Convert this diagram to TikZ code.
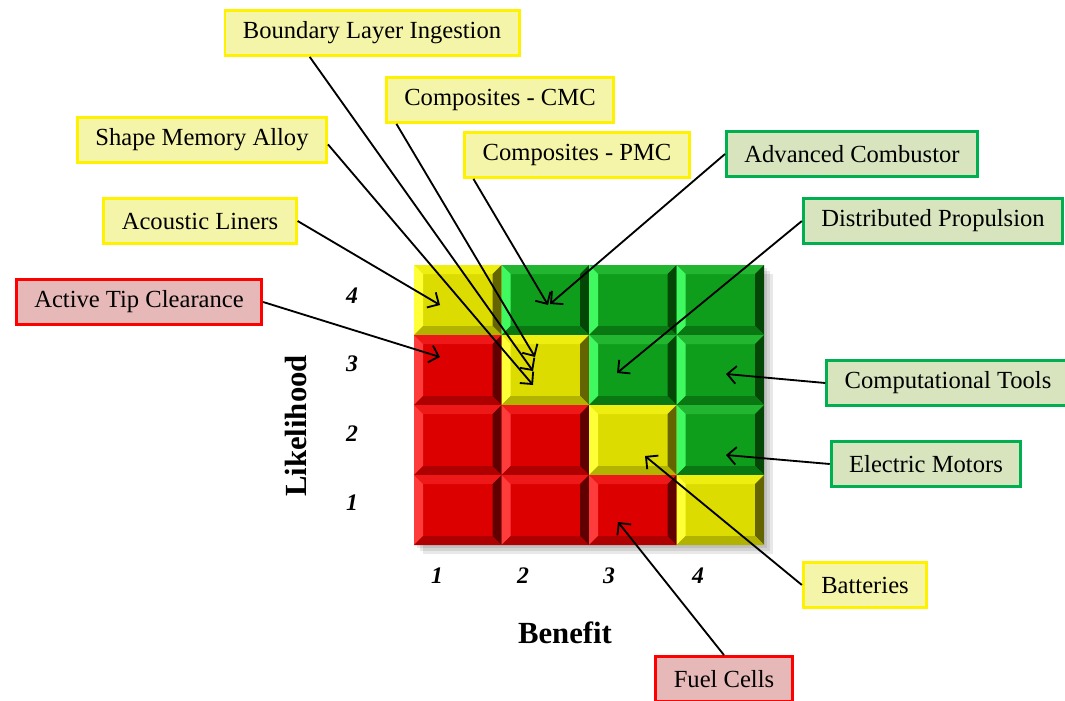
\documentclass[tikz,border=0pt]{standalone}
\usepackage{fontspec}
\setmainfont{Liberation Serif}
\usepackage{xcolor}
\usepackage{tikz}
\usetikzlibrary{arrows.meta}

\definecolor{baser}{HTML}{DC0000}
\definecolor{topr}{HTML}{EE1818}
\definecolor{leftr}{HTML}{FF3C3C}
\definecolor{rightr}{HTML}{600000}
\definecolor{botr}{HTML}{AE0000}
\definecolor{basey}{HTML}{DCDC00}
\definecolor{topy}{HTML}{EEEE10}
\definecolor{lefty}{HTML}{FFFF38}
\definecolor{righty}{HTML}{646400}
\definecolor{boty}{HTML}{B2B200}
\definecolor{baseg}{HTML}{0F9E1C}
\definecolor{topg}{HTML}{22B630}
\definecolor{leftg}{HTML}{40F860}
\definecolor{rightg}{HTML}{034606}
\definecolor{botg}{HTML}{0A7812}
\definecolor{yfill}{HTML}{F5F5AA}
\definecolor{gfill}{HTML}{D7E4BD}
\definecolor{gline}{HTML}{00B050}
\definecolor{rfill}{HTML}{E6B9B8}

\begin{document}
\begin{tikzpicture}[x=0.02cm, y=-0.02cm, ->, >={Straight Barb[length=5pt,width=10pt]}, line width=1.05pt]
\tikzstyle{lbl} = [-, draw, line width=1.6pt, minimum height=0.9cm, inner xsep=0.36cm, font=\fontsize{14}{16}\selectfont]
\tikzstyle{ylbl} = [lbl, draw=yellow, fill=yfill]
\tikzstyle{glbl} = [lbl, draw=gline, fill=gfill]
\tikzstyle{rlbl} = [lbl, draw=red, fill=rfill]
\tikzstyle{num} = [font=\fontsize{13.5}{15}\selectfont\bfseries\itshape]
\tikzstyle{axis} = [font=\fontsize{17.5}{20}\selectfont\bfseries]
\useasboundingbox (0,0) rectangle (1065,700);

\foreach \d in {3,6,9}
\fill[black, opacity=0.09] (414+\d,265+\d) rectangle (764+\d,545+\d);
\foreach \c/\r/\k in {1/4/y, 2/4/g, 3/4/g, 4/4/g, 1/3/r, 2/3/y, 3/3/g, 4/3/g, 1/2/r, 2/2/r, 3/2/y, 4/2/g, 1/1/r, 2/1/r, 3/1/r, 4/1/y} {
\pgfmathsetmacro\xa{414+(\c-1)*87.5}
\pgfmathsetmacro\xb{\xa+87.5}
\pgfmathsetmacro\ya{545-\r*70}
\pgfmathsetmacro\yb{\ya+70}
\fill[base\k] (\xa,\ya) rectangle (\xb,\yb);
\fill[top\k] (\xa,\ya) -- (\xb,\ya) -- (\xb-9,\ya+9) -- (\xa+9,\ya+9) -- cycle;
\fill[left\k] (\xa,\ya) -- (\xa+9,\ya+9) -- (\xa+9,\yb-9) -- (\xa,\yb) -- cycle;
\fill[right\k] (\xb,\ya) -- (\xb,\yb) -- (\xb-9,\yb-9) -- (\xb-9,\ya+9) -- cycle;
\fill[bot\k] (\xa,\yb) -- (\xb,\yb) -- (\xb-9,\yb-9) -- (\xa+9,\yb-9) -- cycle;
}

\node[num] (l4) at (352,296) {4};
\node[num] (l3) at (352,364) {3};
\node[num] (l2) at (352,434) {2};
\node[num] (l1) at (352,503) {1};
\node[num] (b1) at (437,576) {1};
\node[num] (b2) at (523,576) {2};
\node[num] (b3) at (609,576) {3};
\node[num] (b4) at (698,576) {4};
\node[axis, rotate=90] (lik) at (296,426) {Likelihood};
\node[axis] (ben) at (565,633) {Benefit};

\node[ylbl] (bli) at (372,33) {Boundary Layer Ingestion};
\node[ylbl] (cmc) at (500,100) {Composites - CMC};
\node[ylbl] (sma) at (202,140) {Shape Memory Alloy};
\node[ylbl] (pmc) at (577,155) {Composites - PMC};
\node[glbl] (ac) at (852,154) {Advanced Combustor};
\node[glbl] (dp) at (933,221) {Distributed Propulsion};
\node[ylbl] (al) at (200,221) {Acoustic Liners};
\node[rlbl] (atc) at (139,302) {Active Tip Clearance};
\node[glbl] (ct) at (948,383) {Computational Tools};
\node[glbl] (em) at (926,464) {Electric Motors};
\node[ylbl] (bat) at (865,585) {Batteries};
\node[rlbl] (fc) at (724,679) {Fuel Cells};

\coordinate (t-bli) at (533,371);
\coordinate (t-cmc) at (535,357);
\coordinate (t-sma) at (533,385);
\coordinate (t-pmc) at (548,305);
\coordinate (t-ac) at (550,304);
\coordinate (t-dp) at (617,373);
\coordinate (t-al) at (440,305);
\coordinate (t-atc) at (440,357);
\coordinate (t-ct) at (726,374);
\coordinate (t-em) at (726,455);
\coordinate (t-bat) at (645,456);
\coordinate (t-fc) at (618,522);

\draw (bli.201) -- (t-bli);
\draw (cmc.193) -- (t-cmc);
\draw (sma.358) -- (t-sma);
\draw (pmc.193) -- (t-pmc);
\draw (ac.west) -- (t-ac);
\draw (dp.west) -- (t-dp);
\draw (al.east) -- (t-al);
\draw (atc.east) -- (t-atc);
\draw (ct.west) -- (t-ct);
\draw (em.west) -- (t-em);
\draw (bat.west) -- (t-bat);
\draw (fc.north) -- (t-fc);
\end{tikzpicture}
\end{document}
